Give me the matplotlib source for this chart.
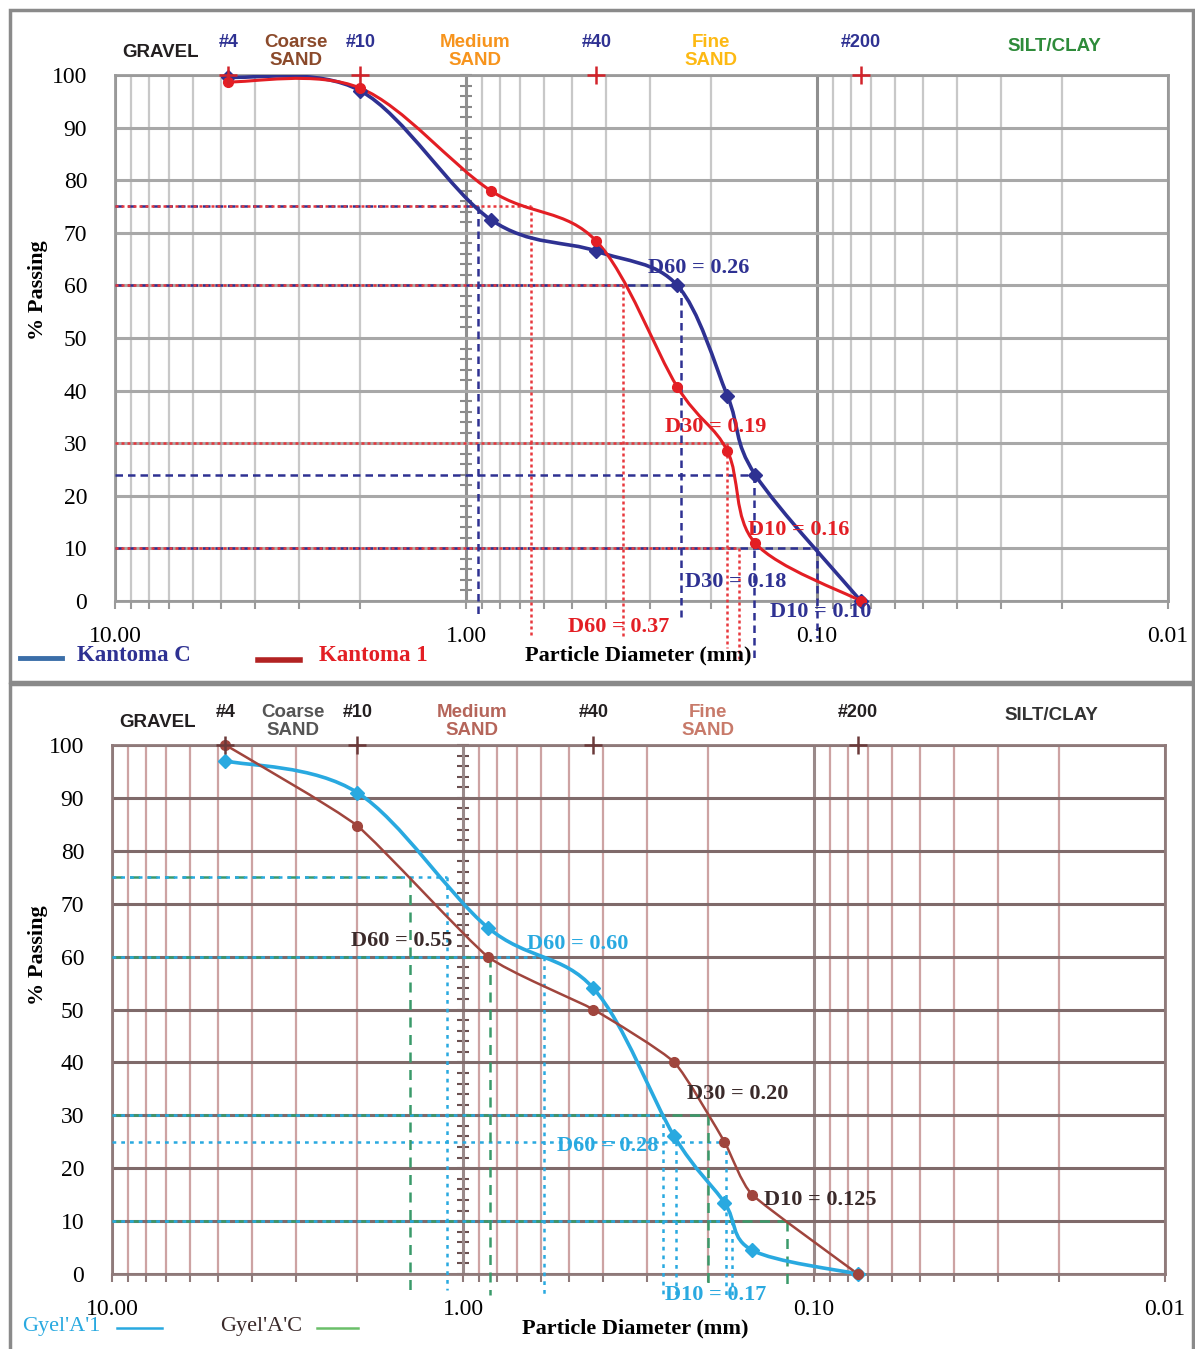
import numpy as np
import matplotlib
matplotlib.use('Agg')
import matplotlib.pyplot as plt
from matplotlib.path import Path
from matplotlib.patches import PathPatch, Rectangle
from matplotlib.lines import Line2D
from matplotlib.ticker import FixedLocator, FixedFormatter, NullFormatter, MultipleLocator

W, H = 1195, 1349
SERIF = 'Liberation Serif'
SANS = 'Liberation Sans'

# sieves and soil zones along the top of each chart
sieve_mm = [4.75, 2.0, 0.425, 0.075]
sieve_names = ['#4', '#10', '#40', '#200']
zone_names = ['GRAVEL', 'Coarse\nSAND', 'Medium\nSAND', 'Fine\nSAND', 'SILT/CLAY']
zone_mm = [7.4, 3.05, 0.94, 0.20, 0.021]

# grain size results, % passing
diam = [4.75, 2.0, 0.85, 0.425, 0.25, 0.18, 0.15, 0.075]
kantoma_c = [99.6, 97.0, 72.5, 66.5, 60.0, 39.0, 24.0, 0.0]
kantoma_1 = [98.7, 97.5, 78.0, 68.4, 40.7, 28.5, 11.0, 0.0]
gyel_a1 = [97.0, 91.0, 65.5, 54.0, 26.0, 13.5, 4.5, 0.0]
gyel_ac = [100.0, 84.7, 60.0, 50.0, 40.0, 25.0, 15.0, 0.0]

# construction lines: (percent, diameter, series) -- 'a' first series, 'b' second
top_h = [(75, 0.924, 'a'), (75, 0.653, 'b'), (60, 0.244, 'a'), (60, 0.357, 'b'),
         (30, 0.180, 'b'), (24, 0.151, 'a'), (10, 0.100, 'a'), (10, 0.167, 'b')]
top_v = [(0.924, 75, 'a', -3), (0.653, 75, 'b', -7), (0.357, 60, 'b', -7), (0.244, 60, 'a', -3),
         (0.180, 30, 'b', -9), (0.151, 24, 'a', -11), (0.167, 10, 'b', -11), (0.100, 10, 'a', -7)]
bot_h = [(75, 1.416, 'b'), (75, 1.11, 'a'), (60, 0.838, 'b'), (60, 0.588, 'a'),
         (30, 0.200, 'b'), (30, 0.269, 'a'), (25, 0.178, 'a'), (10, 0.119, 'b'), (10, 0.171, 'a')]
bot_v = [(1.416, 75, 'b', -3), (1.11, 75, 'a', -3), (0.838, 60, 'b', -4), (0.588, 60, 'a', -4),
         (0.269, 30, 'a', -4), (0.247, 25, 'a', -4), (0.200, 30, 'b', -3), (0.178, 25, 'a', -4),
         (0.171, 10, 'a', -4), (0.119, 10, 'b', -3)]

# D-value notes: (text, left diameter, percent, series)
top_notes = [('D60 = 0.26', 0.303, 63.3, 'a'), ('D30 = 0.19', 0.271, 33.0, 'b'),
             ('D10 = 0.16', 0.157, 13.5, 'b'), ('D30 = 0.18', 0.238, 3.6, 'a'),
             ('D10 = 0.10', 0.136, -2.0, 'a'), ('D60 = 0.37', 0.512, -5.0, 'b')]
bot_notes = [('D60 = 0.55', 2.085, 63.0, 'b'), ('D60 = 0.60', 0.657, 62.4, 'a'),
             ('D30 = 0.20', 0.230, 34.0, 'b'), ('D60 = 0.28', 0.540, 24.2, 'a'),
             ('D10 = 0.125', 0.139, 14.0, 'b'), ('D10 = 0.17', 0.266, -4.0, 'a')]


def smooth_path(x, y, k=1/6):
    u = np.log10(x)
    v = np.asarray(y, float)
    n = len(u)
    verts = [(x[0], v[0])]
    codes = [Path.MOVETO]
    for i in range(n - 1):
        i0 = max(i - 1, 0)
        i3 = min(i + 2, n - 1)
        c1 = (u[i] + (u[i + 1] - u[i0]) * k, v[i] + (v[i + 1] - v[i0]) * k)
        c2 = (u[i + 1] - (u[i3] - u[i]) * k, v[i + 1] - (v[i3] - v[i]) * k)
        verts += [(10 ** c1[0], c1[1]), (10 ** c2[0], c2[1]), (x[i + 1], v[i + 1])]
        codes += [Path.CURVE4] * 3
    return Path(verts, codes)


def fx(px):
    return px / W


def fy(py):
    return 1 - py / H


fig = plt.figure(figsize=(W / 100, H / 100), dpi=100)
fig.patch.set_facecolor('white')

# panel frames
fig.add_artist(Rectangle((fx(10), fy(682)), fx(1183), 672 / H, fill=False,
                         edgecolor='#8a8a8a', lw=2.5, transform=fig.transFigure))
fig.add_artist(Rectangle((fx(10), fy(1360)), fx(1183), 676 / H, fill=False,
                         edgecolor='#8a8a8a', lw=2.5, transform=fig.transFigure))


def panel(ax, s1, s2, st, h_lines, v_lines, notes):
    ax.set_xscale('log')
    ax.set_xlim(10, 0.01)
    ax.set_ylim(0, 100)

    ax.xaxis.set_major_locator(FixedLocator([10, 1, 0.1, 0.01]))
    ax.xaxis.set_major_formatter(FixedFormatter(['10.00', '1.00', '0.10', '0.01']))
    minors = [m * 10.0 ** e for e in (0, -1, -2) for m in range(2, 10)]
    ax.xaxis.set_minor_locator(FixedLocator(minors))
    ax.xaxis.set_minor_formatter(NullFormatter())
    ax.set_yticks(range(0, 101, 10))

    ax.grid(which='minor', axis='x', color=st['vgrid'], lw=1.6)
    ax.grid(which='major', axis='x', color=st['vmajor'], lw=2.2)
    ax.grid(which='major', axis='y', color=st['hgrid'], lw=2.2)
    ax.set_axisbelow(True)
    for sp in ax.spines.values():
        sp.set_color(st['spine'])
        sp.set_linewidth(2)
    ax.tick_params(axis='x', which='both', direction='out', length=6, width=1.5,
                   color=st['spine'], pad=12, labelsize=17)
    ax.tick_params(axis='y', length=0, pad=20, labelsize=17)
    for lab in ax.get_xticklabels() + ax.get_yticklabels():
        lab.set_fontfamily(SERIF)

    # axis with ticks on the 1.00 line
    sec = ax.secondary_yaxis(1 / 3)
    sec.set_yticks(range(0, 101, 10))
    sec.yaxis.set_minor_locator(MultipleLocator(2))
    sec.tick_params(which='both', direction='inout', length=8, width=1.5,
                    color=st['axis1'], labelright=False, labelleft=False)
    sec.spines['right'].set_color(st['axis1'])
    sec.spines['right'].set_linewidth(2)

    # sieve marks
    ax.plot(sieve_mm, [100] * len(sieve_mm), linestyle='none', marker='+', ms=13, mew=1.8,
            color=st['plus'], clip_on=False, zorder=6)

    tr = ax.get_xaxis_transform()
    for name, d in zip(sieve_names, sieve_mm):
        ax.text(d, 1.062, name, transform=tr, ha='center', va='center', fontsize=13,
                fontfamily=SANS, fontweight='bold', color=st['sieve_col'])
    for name, d, c in zip(zone_names, zone_mm, st['zone_cols']):
        yy = 1.042 if name == 'GRAVEL' else (1.055 if name == 'SILT/CLAY' else 1.045)
        ax.text(d, yy, name, transform=tr, ha='center', va='center', fontsize=13.5,
                fontfamily=SANS, fontweight='bold', color=c, linespacing=1.1)

    cols = {'a': st['ref_a'], 'b': st['ref_b']}
    dash = {'a': st['ls_a'], 'b': st['ls_b']}
    for lvl, d, k in h_lines:
        ax.plot([10, d], [lvl, lvl], color=cols[k], ls=dash[k], lw=1.8, zorder=3)
    for d, lvl, k, bottom in v_lines:
        ax.plot([d, d], [lvl, bottom], color=cols[k], ls=dash[k], lw=1.8, zorder=3, clip_on=False)

    for (ys, col, lw, mk, k) in ((s1, st['c1'], st['lw1'], st['m1'], st['k1']),
                                 (s2, st['c2'], st['lw2'], st['m2'], st['k2'])):
        ax.add_patch(PathPatch(smooth_path(diam, ys, k), fill=False, edgecolor=col, lw=lw,
                               zorder=4, capstyle='round'))
        ax.plot(diam, ys, linestyle='none', marker=mk, ms=7, color=col, zorder=5, clip_on=False)

    tcol = {'a': st['note_a'], 'b': st['note_b']}
    for txt, d, lvl, k in notes:
        ax.text(d, lvl, txt, ha='left', va='center', fontsize=16, fontfamily=SERIF,
                fontweight='bold', color=tcol[k], zorder=7, clip_on=False)


top_style = dict(vgrid='#c8c8c8', vmajor='#8f8f8f', hgrid='#a8a8a8', spine='#9a9a9a',
                 axis1='#8a8a8a', plus='#d2232a', sieve_col='#2e3192',
                 zone_cols=['#231f20', '#8b4a2b', '#f7941d', '#fdb913', '#2e8b3a'],
                 ref_a='#2e3192', ref_b='#e8383d', ls_a=(0, (3, 2)), ls_b=(0, (1.2, 1.2)),
                 c1='#2e3192', c2='#e31e24', lw1=2.6, lw2=2.2, m1='D', m2='o', k1=1/6, k2=1/6,
                 note_a='#2e3192', note_b='#e31e24')
bot_style = dict(vgrid='#cda3a3', vmajor='#9a8a8a', hgrid='#7f6a6a', spine='#8f7a7a',
                 axis1='#6b5050', plus='#6b3a3a', sieve_col='#231f20',
                 zone_cols=['#231f20', '#555555', '#b5655a', '#c87a6a', '#333333'],
                 ref_a='#29a9e0', ref_b='#3a9a6a', ls_a=(0, (1.5, 2)), ls_b=(0, (4, 3)),
                 c1='#29a9e0', c2='#a0453d', lw1=2.6, lw2=1.8, m1='D', m2='o', k1=1/6, k2=1/12,
                 note_a='#29a9e0', note_b='#3a2a2a')

ax1 = fig.add_axes([fx(115), fy(601), fx(1168) - fx(115), (601 - 75) / H])
panel(ax1, kantoma_c, kantoma_1, top_style, top_h, top_v, top_notes)

ax2 = fig.add_axes([fx(112), fy(1274), fx(1165) - fx(112), (1274 - 745) / H])
panel(ax2, gyel_a1, gyel_ac, bot_style, bot_h, bot_v, bot_notes)

# axis titles
for yc in (290, 955):
    fig.text(fx(38), fy(yc), '% Passing', rotation=90, ha='center', va='center',
             fontsize=16, fontfamily=SERIF, fontweight='bold')
fig.text(fx(638), fy(655), 'Particle Diameter (mm)', ha='center', va='center',
         fontsize=16, fontfamily=SERIF, fontweight='bold')
fig.text(fx(635), fy(1328), 'Particle Diameter (mm)', ha='center', va='center',
         fontsize=16, fontfamily=SERIF, fontweight='bold')

# legends
fig.add_artist(Line2D([fx(20), fx(62)], [fy(658), fy(658)], color='#3b6ea8', lw=3.5,
                      transform=fig.transFigure))
fig.text(fx(77), fy(655), 'Kantoma C', ha='left', va='center', fontsize=16.5,
         fontfamily=SERIF, fontweight='bold', color='#2e3192')
fig.add_artist(Line2D([fx(258), fx(300)], [fy(660), fy(660)], color='#b22222', lw=4,
                      transform=fig.transFigure))
fig.text(fx(319), fy(655), 'Kantoma 1', ha='left', va='center', fontsize=16.5,
         fontfamily=SERIF, fontweight='bold', color='#e31e24')

fig.text(fx(22), fy(1326), "Gyel'A'1", ha='left', va='center', fontsize=16,
         fontfamily=SERIF, color='#29a9e0')
fig.add_artist(Line2D([fx(117), fx(162)], [fy(1328), fy(1328)], color='#29a9e0', lw=1.8,
                      transform=fig.transFigure))
fig.text(fx(220), fy(1326), "Gyel'A'C", ha='left', va='center', fontsize=16,
         fontfamily=SERIF, color='#3a2a2a')
fig.add_artist(Line2D([fx(317), fx(358)], [fy(1328), fy(1328)], color='#6abf69', lw=1.8,
                      transform=fig.transFigure))

fig.savefig('out.png', dpi=100, facecolor='white')
